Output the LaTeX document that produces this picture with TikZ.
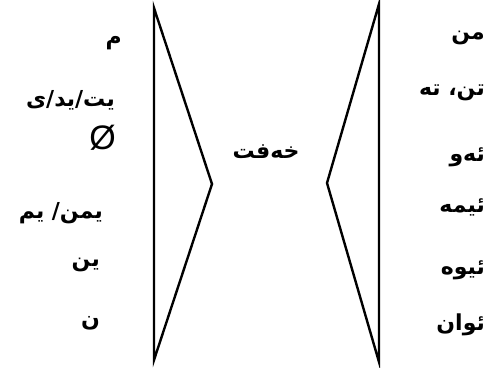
\documentclass[tikz,border=0pt]{standalone}
\usepackage{fontspec}
\newfontfamily\arabicfont[Script=Arabic]{DejaVu Sans}
\newfontfamily\latinfont{Liberation Sans}
\TeXXeTstate=1
\begin{document}
\begin{tikzpicture}[x=1pt,y=-1pt,line width=2.4pt,
  ku/.style={anchor=east,inner sep=0pt,font=\arabicfont\bfseries\fontsize{22}{25}\selectfont}]
\path[use as bounding box] (0,0) rectangle (489,367);
% the two wedges
\draw (154,8) -- (212,184) -- (154,360) -- cycle;
\draw (379,4) -- (327,183) -- (379,362) -- cycle;
% suffixes
\node[ku] (sufM) at (123,43) {\beginR م\endR};
\node[ku] (sufYt) at (116,100) {\beginR یت/ید/ی\endR};
\node[anchor=east,inner sep=0pt,font=\latinfont\fontsize{34}{38}\selectfont] (sufZero) at (117,138) {Ø};
\node[ku] (sufYmn) at (104,213) {\beginR یمن/ یم\endR};
\node[ku] (sufYn) at (101,265) {\beginR ین\endR};
\node[ku] (sufN) at (101,323) {\beginR ن\endR};
% verb
\node[anchor=center,inner sep=0pt,font=\arabicfont\bfseries\fontsize{22}{25}\selectfont] (verb) at (266,152) {\beginR خەفت\endR};
% pronouns
\node[ku] (prMn) at (486,38) {\beginR من\endR};
\node[ku] (prTo) at (486,93) {\beginR تن، ته\endR};
\node[ku] (prEw) at (486,157) {\beginR ئەو\endR};
\node[ku] (prEme) at (486,207) {\beginR ئیمه\endR};
\node[ku] (prEwe) at (486,270) {\beginR ئیوه\endR};
\node[ku] (prEwan) at (486,325) {\beginR ئوان\endR};
\end{tikzpicture}
\end{document}
